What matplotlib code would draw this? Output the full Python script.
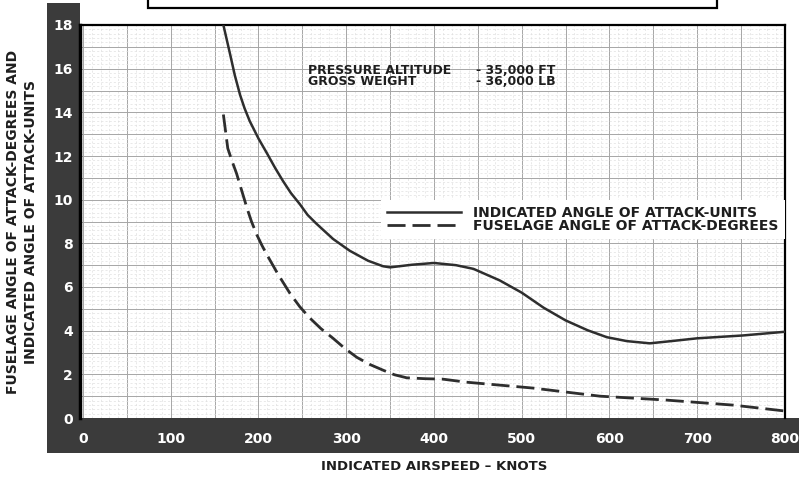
import matplotlib
matplotlib.use("Agg")
from matplotlib import pyplot as plt
from matplotlib.patches import Rectangle
from matplotlib.ticker import MultipleLocator, FuncFormatter

# indicated angle of attack (units) vs indicated airspeed (knots)
speed_ind = [160, 164, 168, 173, 179, 184, 190, 200, 210, 219, 228, 237, 247,
             256, 266, 285, 304, 325, 342, 350, 375, 400, 425, 445, 475, 500,
             525, 550, 575, 597, 620, 646, 670, 700, 752, 800]
aoa_ind = [18.0, 17.3, 16.6, 15.7, 14.8, 14.2, 13.6, 12.8, 12.1, 11.45, 10.85,
           10.3, 9.8, 9.3, 8.9, 8.2, 7.66, 7.2, 6.95, 6.9, 7.02, 7.1, 7.0,
           6.83, 6.3, 5.74, 5.05, 4.47, 4.02, 3.7, 3.52, 3.42, 3.52, 3.65,
           3.78, 3.95]

# fuselage angle of attack (degrees)
speed_fus = [160, 165, 170, 175, 181, 187, 192, 198, 204, 210, 222, 236, 247,
             258, 271, 285, 298, 312, 327, 342, 355, 369, 390, 410, 437, 513,
             589, 665, 741, 800]
aoa_fus = [13.9, 12.35, 11.75, 11.2, 10.4, 9.6, 9.0, 8.4, 7.9, 7.45, 6.6, 5.7,
           5.1, 4.6, 4.1, 3.65, 3.2, 2.78, 2.45, 2.19, 1.98, 1.84, 1.8, 1.78,
           1.64, 1.37, 1.0, 0.82, 0.59, 0.32]

LABEL_IND = "INDICATED ANGLE OF ATTACK-UNITS"
LABEL_FUS = "FUSELAGE ANGLE OF ATTACK-DEGREES"
BAND = "#3b3b3b"
INK = "#2e2e2e"
TXT = "#1e1e1e"

plt.rcParams['font.family'] = ['DejaVu Sans']
plt.rcParams['font.weight'] = 'bold'

fig = plt.figure(figsize=(7.99, 4.8), dpi=100)
ax = fig.add_axes([80 / 799, 62 / 480, 705 / 799, 393 / 480])

# dark scale bands left and bottom
fig.patches.append(Rectangle((47 / 799, 62 / 480), 33 / 799, 415 / 480,
                             transform=fig.transFigure, facecolor=BAND,
                             edgecolor='none', zorder=-1))
fig.patches.append(Rectangle((47 / 799, 27 / 480), 752 / 799, 35 / 480,
                             transform=fig.transFigure, facecolor=BAND,
                             edgecolor='none', zorder=-1))
# cut-off title box at the top
fig.patches.append(Rectangle((148 / 799, 472 / 480), 569 / 799, 0.06,
                             transform=fig.transFigure, facecolor='white',
                             edgecolor='black', linewidth=1.6, zorder=-1))

ax.plot(speed_ind, aoa_ind, color=INK, lw=1.8, label=LABEL_IND, zorder=3)
ax.plot(speed_fus, aoa_fus, color=INK, lw=2.0, dashes=(6.5, 2.5),
        label=LABEL_FUS, zorder=3)

ax.set_xlim(-3.4, 800)
ax.set_ylim(0, 18)

ax.xaxis.set_major_locator(MultipleLocator(50))
ax.xaxis.set_minor_locator(MultipleLocator(10))
ax.yaxis.set_major_locator(MultipleLocator(1))
ax.yaxis.set_minor_locator(MultipleLocator(0.2))
ax.xaxis.set_major_formatter(FuncFormatter(
    lambda v, p: "%d" % v if round(v) % 100 == 0 else ""))
ax.yaxis.set_major_formatter(FuncFormatter(
    lambda v, p: "%d" % v if round(v) % 2 == 0 else ""))

ax.grid(which='major', color='#a6a6a6', lw=0.7)
ax.grid(which='minor', color='#e0e0e0', lw=0.5, ls=(0, (3, 3)))
ax.set_axisbelow(True)

ax.tick_params(which='both', length=0)
ax.tick_params(axis='x', colors='white', labelsize=10, pad=10)
ax.tick_params(axis='y', colors='white', labelsize=10, pad=5)

for side in ['left', 'top', 'right']:
    ax.spines[side].set_color('black')
ax.spines['left'].set_linewidth(2.5)
ax.spines['top'].set_linewidth(1.6)
ax.spines['right'].set_linewidth(1.6)
ax.spines['bottom'].set_visible(False)

for yy, left, right in [(0.885, "PRESSURE ALTITUDE", "- 35,000 FT"),
                        (0.855, "GROSS WEIGHT", "- 36,000 LB")]:
    ax.text(0.323, yy, left, transform=ax.transAxes, fontsize=9,
            color=TXT, va='center')
    ax.text(0.561, yy, right, transform=ax.transAxes, fontsize=9,
            color=TXT, va='center')

leg = ax.legend(loc='upper right', bbox_to_anchor=(1.0, 0.555),
                borderaxespad=0, fontsize=10, handlelength=5.3,
                handletextpad=0.9, labelspacing=-0.1, borderpad=0.45,
                frameon=True, fancybox=False, framealpha=1)
leg.get_frame().set_facecolor('white')
leg.get_frame().set_edgecolor('none')
for t in leg.get_texts():
    t.set_color(TXT)
leg.set_zorder(4)

fig.text(13 / 799, 0.5375, "FUSELAGE ANGLE OF ATTACK-DEGREES AND",
         rotation=90, ha='center', va='center', fontsize=10, color=TXT)
fig.text(31 / 799, 0.5375, "INDICATED ANGLE OF ATTACK-UNITS",
         rotation=90, ha='center', va='center', fontsize=10, color=TXT)
fig.text(434 / 799, 13 / 480, "INDICATED AIRSPEED \u2013 KNOTS",
         ha='center', va='center', fontsize=9.5, color=TXT)

fig.savefig("out.png", dpi=100)
